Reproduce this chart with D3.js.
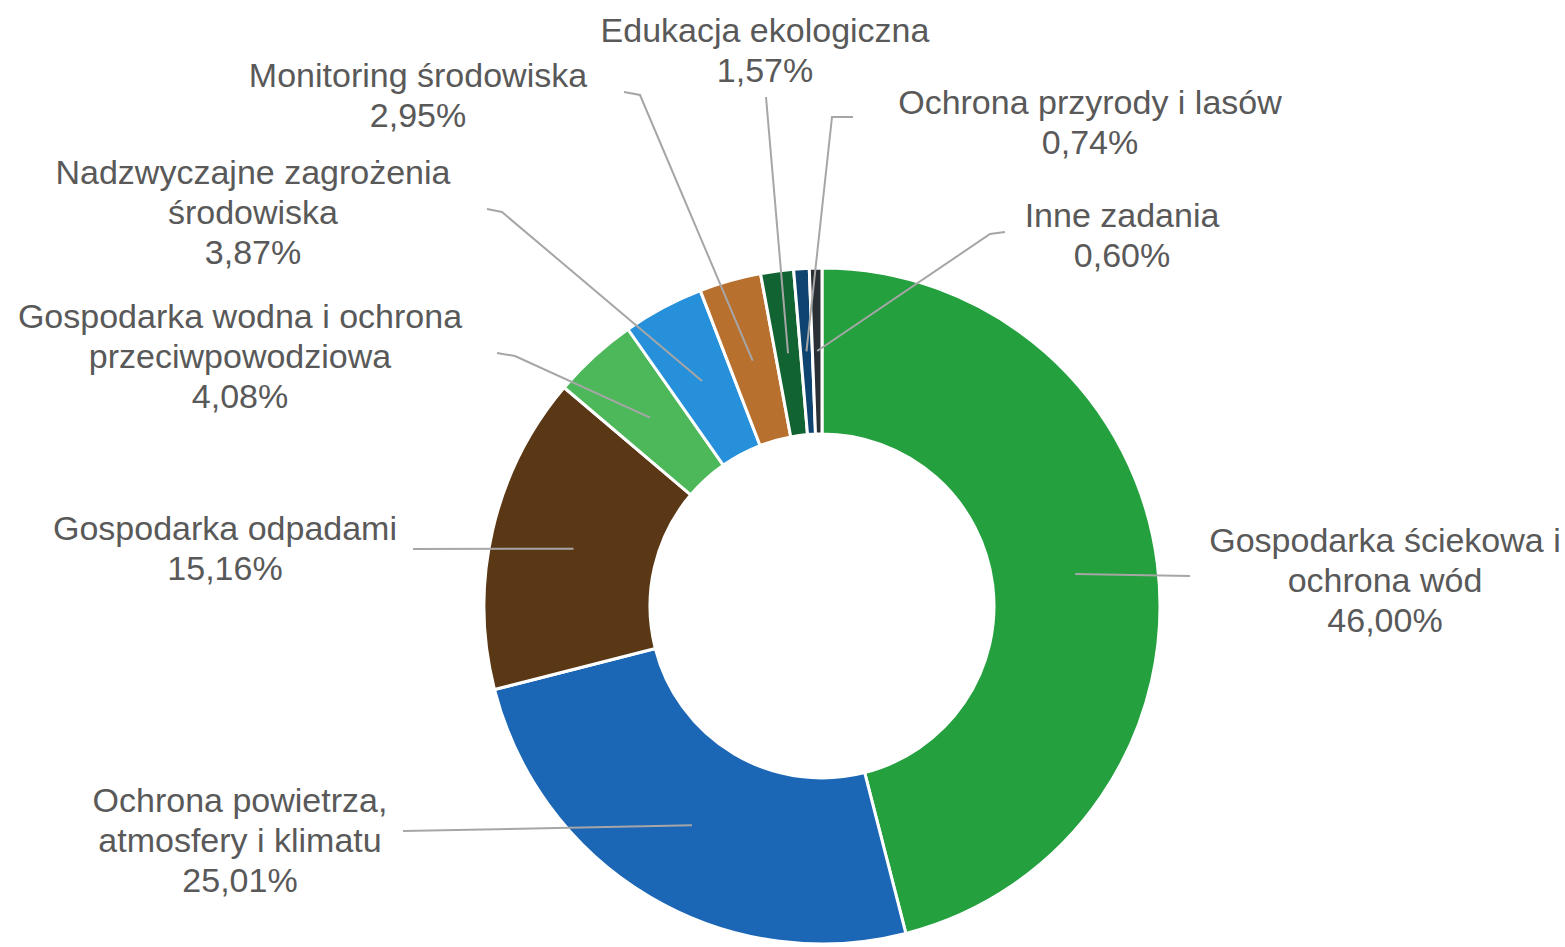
<!DOCTYPE html>
<html>
<head>
<meta charset="utf-8">
<script src="https://cdnjs.cloudflare.com/ajax/libs/d3/7.8.5/d3.min.js"></script>
<style>
  body { margin: 0; background: #fff; }
  svg { display: block; }
  .lbl { font-family: "Liberation Sans", Arial, sans-serif; font-size: 34px; fill: #595959; }
</style>
</head>
<body>
<div id="chart"></div>
<script>
// categories go clockwise from 12 o'clock
var categories = [
    ["Gospodarka ściekowa i", "ochrona wód"],
    ["Ochrona powietrza,", "atmosfery i klimatu"],
    ["Gospodarka odpadami"],
    ["Gospodarka wodna i ochrona", "przeciwpowodziowa"],
    ["Nadzwyczajne zagrożenia", "środowiska"],
    ["Monitoring środowiska"],
    ["Edukacja ekologiczna"],
    ["Ochrona przyrody i lasów"],
    ["Inne zadania"]
];
var values = [46.00, 25.01, 15.16, 4.08, 3.87, 2.95, 1.57, 0.74, 0.60];
var colors = ["#24a03e", "#1b66b5", "#5a3815", "#4db85a", "#2690da", "#b8702f", "#116331", "#0f4470", "#2a2f36"];

// label layout: centre x, first line y, leader end, leader elbow
var labelPos = [
    {x: 1385, y: 540, end: [1190, 576], elbow: [1190, 576]},
    {x: 240, y: 800, end: [403, 831], elbow: [403, 831]},
    {x: 225, y: 528, end: [413, 549], elbow: [413, 549]},
    {x: 240, y: 316, end: [497, 353], elbow: [515, 356]},
    {x: 253, y: 172, end: [487, 209], elbow: [502, 212]},
    {x: 418, y: 75, end: [624, 92], elbow: [640, 95]},
    {x: 765, y: 30, end: [766, 97], elbow: [766, 97]},
    {x: 1090, y: 102, end: [853, 117], elbow: [832, 117]},
    {x: 1122, y: 215, end: [1005, 232], elbow: [990, 234]}
];

var width = 1565, height = 947;
var cx = 822, cy = 606;
var outerR = 338, innerR = 172;
var lineH = 40;

var svg = d3.select("#chart")
    .append("svg")
    .attr("width", width)
    .attr("height", height);

var data = values.map((v, i) => ({name: categories[i], value: v, color: colors[i], pos: labelPos[i]}));

var pie = d3.pie()
    .sort(null)
    .value(d => d.value);

var arc = d3.arc()
    .innerRadius(innerR)
    .outerRadius(outerR);

var midArc = d3.arc()
    .innerRadius((innerR + outerR) / 2)
    .outerRadius((innerR + outerR) / 2);

var arcs = pie(data);

var g = svg.append("g")
    .attr("transform", `translate(${cx}, ${cy})`);

g.selectAll(".slice")
    .data(arcs)
    .enter()
    .append("path")
    .classed("slice", true)
    .attr("d", arc)
    .attr("fill", d => d.data.color)
    .attr("stroke", "#fff")
    .attr("stroke-width", 3)
    .attr("stroke-linejoin", "round");

// leader lines
var line = d3.line();
svg.selectAll(".leader")
    .data(arcs)
    .enter()
    .append("path")
    .classed("leader", true)
    .attr("d", d => {
        var c = midArc.centroid(d);
        var p = d.data.pos;
        return line([p.end, p.elbow, [cx + c[0], cy + c[1]]]);
    })
    .attr("fill", "none")
    .attr("stroke", "#a6a6a6")
    .attr("stroke-width", 2);

function fmt(v) {
    return v.toFixed(2).replace(".", ",") + "%";
}

var labels = svg.selectAll(".lbl")
    .data(data)
    .enter()
    .append("text")
    .classed("lbl", true)
    .attr("text-anchor", "middle")
    .attr("dominant-baseline", "central");

labels.each(function (d) {
    var t = d3.select(this);
    var lines = d.name.concat([fmt(d.value)]);
    lines.forEach((s, i) => {
        t.append("tspan")
            .attr("x", d.pos.x)
            .attr("y", d.pos.y + i * lineH)
            .text(s);
    });
});
</script>
</body>
</html>
